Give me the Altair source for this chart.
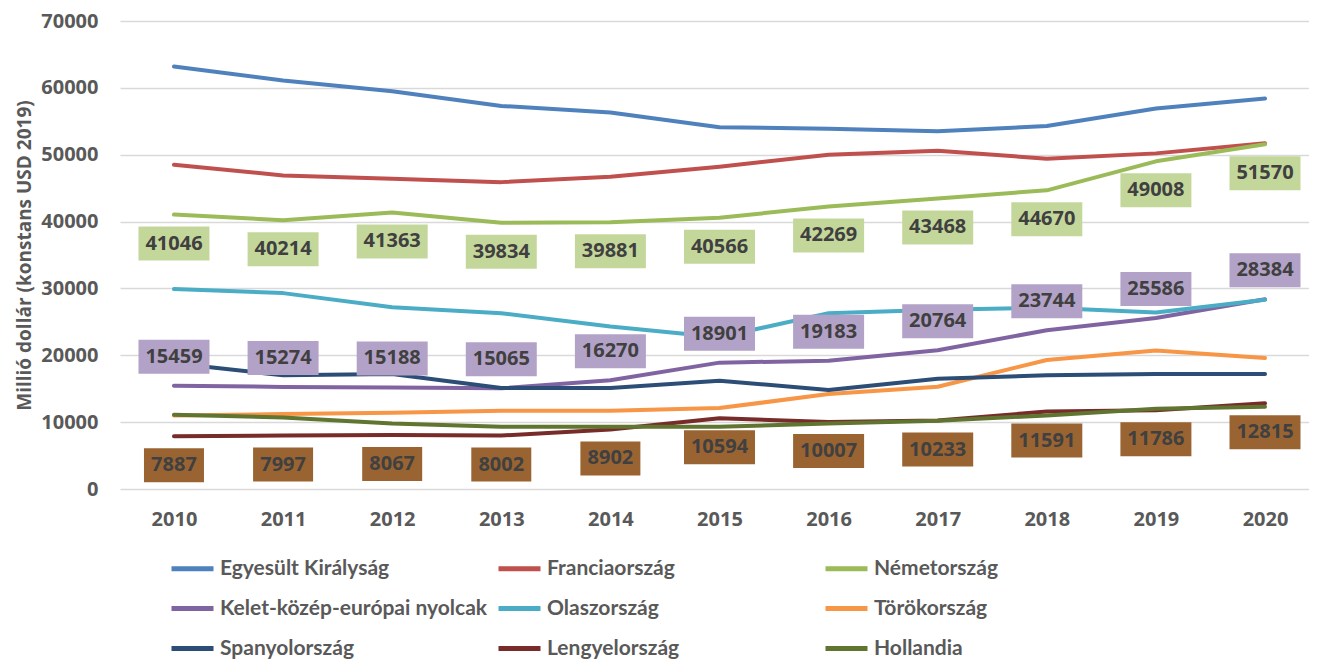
import altair as alt
import pandas as pd

years = ["2010", "2011", "2012", "2013", "2014", "2015", "2016", "2017", "2018", "2019", "2020"]

series_names = [
    "Egyesült Királyság", "Franciaország", "Németország",
    "Kelet-közép-európai nyolcak", "Olaszország", "Törökország",
    "Spanyolország", "Lengyelország", "Hollandia",
]
series_colors = [
    "#4F81BD", "#C0504D", "#9BBB59",
    "#8064A2", "#4BACC6", "#F79646",
    "#2C4D75", "#772C2A", "#5F7530",
]

uk = [63200, 61100, 59500, 57300, 56300, 54100, 53900, 53500, 54300, 56900, 58400]
france = [48500, 46900, 46400, 45900, 46700, 48200, 50000, 50600, 49400, 50200, 51700]
germany = [41046, 40214, 41363, 39834, 39881, 40566, 42269, 43468, 44670, 49008, 51570]
cee8 = [15459, 15274, 15188, 15065, 16270, 18901, 19183, 20764, 23744, 25586, 28384]
italy = [29900, 29300, 27200, 26300, 24300, 22700, 26300, 26800, 27100, 26400, 28300]
turkey = [11000, 11200, 11400, 11700, 11700, 12100, 14200, 15300, 19300, 20700, 19600]
spain = [18800, 17000, 17200, 15100, 15100, 16200, 14800, 16500, 17000, 17200, 17200]
poland = [7887, 7997, 8067, 8002, 8902, 10594, 10007, 10233, 11591, 11786, 12815]
netherlands = [11100, 10700, 9800, 9300, 9300, 9300, 9800, 10200, 11000, 12000, 12300]

all_series = [uk, france, germany, cee8, italy, turkey, spain, poland, netherlands]

rows = []
for name, vals in zip(series_names, all_series):
    for y, v in zip(years, vals):
        rows.append({"series": name, "year": y, "value": v, "digits": str(len(str(v)))})
df = pd.DataFrame(rows)

FONT = "Open Sans"
GRAY = "#595959"

x_enc = alt.X(
    "year:O",
    scale=alt.Scale(type="point", padding=0.449, align=0.551),
    axis=alt.Axis(title=None, labelAngle=0, ticks=False, domain=False, grid=False,
                  labelFont=FONT, labelFontSize=20, labelFontWeight="bold",
                  labelColor=GRAY, labelPadding=20),
)
y_enc = alt.Y(
    "value:Q",
    scale=alt.Scale(domain=[0, 70000], nice=False),
    axis=alt.Axis(title="Millió dollár (konstans USD 2019)",
                  values=[0, 10000, 20000, 30000, 40000, 50000, 60000, 70000],
                  format="d", ticks=False, domain=False, grid=True,
                  gridColor="#d9d9d9", gridWidth=1.5,
                  labelFont=FONT, labelFontSize=20, labelFontWeight="bold",
                  labelColor=GRAY, labelPadding=22,
                  titleFont=FONT, titleFontSize=19, titleFontWeight="bold",
                  titleColor=GRAY, titlePadding=6),
)

lines = alt.Chart(df).mark_line(strokeWidth=4, strokeCap="round", strokeJoin="round").encode(
    x=x_enc,
    y=y_enc,
    color=alt.Color(
        "series:N",
        scale=alt.Scale(domain=series_names, range=series_colors),
        legend=alt.Legend(
            title=None, orient="none", legendX=49, legendY=524, columns=3,
            direction="horizontal",
            symbolType="stroke", symbolStrokeWidth=5, symbolSize=1764,
            labelFont="Lato", labelFontWeight="bold", labelFontSize=21,
            labelColor=GRAY, labelLimit=400, gridAlign="all",
            columnPadding=0, rowPadding=6, labelOffset=4,
        ),
    ),
    order=alt.Order("year:O"),
)

path5 = "M-1,-0.479L1,-0.479L1,0.479L-1,0.479Z"
path4 = "M-0.845,-0.479L0.845,-0.479L0.845,0.479L-0.845,0.479Z"

def label_layers(name, fill, offset):
    sub = df[df["series"] == name]
    box = alt.Chart(sub).mark_point(filled=True, opacity=1, fill=fill, strokeWidth=0,
                                     size=5041, yOffset=offset).encode(
        x=alt.X("year:O"),
        y=alt.Y("value:Q"),
        shape=alt.Shape("digits:N", scale=alt.Scale(domain=["4", "5"], range=[path4, path5]),
                        legend=None),
    )
    txt = alt.Chart(sub).mark_text(font=FONT, fontSize=20, fontWeight="bold", color="#404040",
                                    baseline="middle", align="center", yOffset=offset).encode(
        x=alt.X("year:O"),
        y=alt.Y("value:Q"),
        text=alt.Text("value:Q", format="d"),
    )
    return [box, txt]

layers = [lines]
layers += label_layers("Németország", "#C4D79B", 29)
layers += label_layers("Kelet-közép-európai nyolcak", "#B3A2C7", -29)
layers += label_layers("Lengyelország", "#9A6432", 29)

chart = alt.layer(*layers).resolve_scale(shape="independent").properties(
    width=1189, height=468,
    autosize=alt.AutoSizeParams(type="none"),
    padding={"left": 112, "top": 13, "right": 0, "bottom": 170},
).configure_view(stroke=None)

chart.save("out.html", embed_options={"renderer": "svg", "actions": False})
